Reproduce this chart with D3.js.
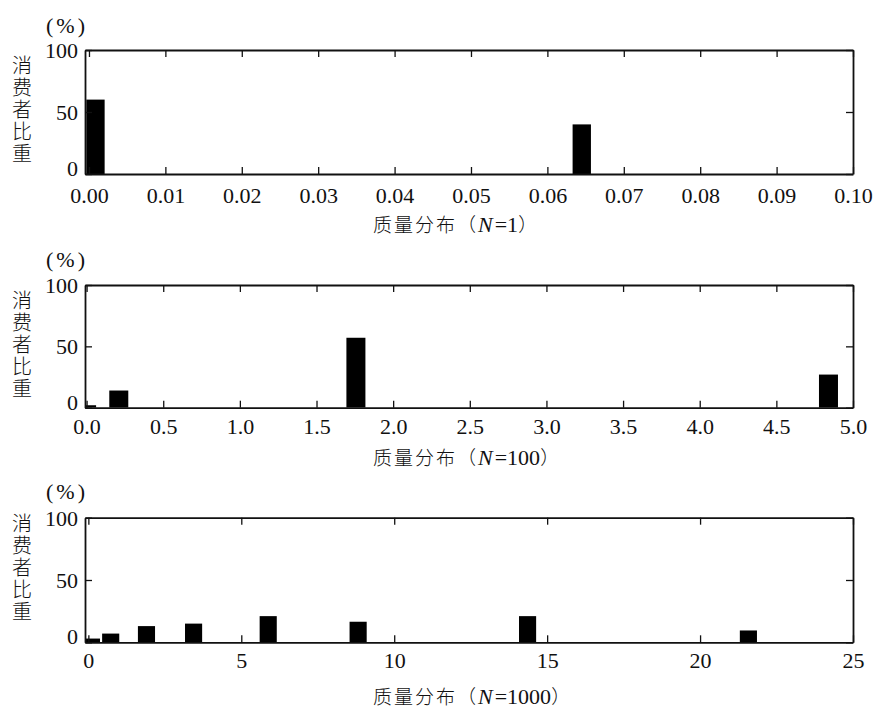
<!DOCTYPE html>
<html>
<head>
<meta charset="utf-8">
<script src="https://cdn.jsdelivr.net/npm/d3@7/dist/d3.min.js"></script>
<style>
  body { margin: 0; background: #fff; }
  svg text { fill: #111; }
  .num { font-family: "Liberation Serif", "DejaVu Serif", serif; font-size: 22px; }
  .cjk { font-family: "Noto Sans CJK SC", sans-serif; font-size: 19px; font-weight: 300; }
  .ylab { font-size: 20px; writing-mode: vertical-rl; letter-spacing: 2px; }
</style>
</head>
<body>
<div id="chart"></div>
<script>

// panel 1 (N=1)
const n1Mass = [0.00085, 0.0645];
const n1Share = [60, 40];
const n1Ticks = [0, 0.01, 0.02, 0.03, 0.04, 0.05, 0.06, 0.07, 0.08, 0.09, 0.10];

// panel 2 (N=100)
const n100Mass = [0.0, 0.21, 1.757, 4.84];
const n100Share = [2, 14, 57, 27];
const n100Ticks = [0, 0.5, 1.0, 1.5, 2.0, 2.5, 3.0, 3.5, 4.0, 4.5, 5.0];

// panel 3 (N=1000)
const n1000Mass = [0.1, 0.73, 1.9, 3.44, 5.88, 8.82, 14.36, 21.58];
const n1000Share = [3, 7, 13, 15, 21, 16.5, 21, 9.5];
const n1000Ticks = [0, 5, 10, 15, 20, 25];

const yTicks = [0, 50, 100];
const yLabel = "消费者比重";

var width = 873;
var height = 709;
var left = 85, right = 853;

var panels = [
  {mass: n1Mass, share: n1Share, ticks: n1Ticks, fmt: d3.format(".2f"), domain: [-0.00052, 0.1],
   barW: 0.0024, top: 50, bottom: 174, labelY: 29, title: "N=1", titleY: 225, pctY: 26, ylabY: 55},
  {mass: n100Mass, share: n100Share, ticks: n100Ticks, fmt: d3.format(".1f"), domain: [-0.0104, 5],
   barW: 0.124, top: 285, bottom: 407.7, labelY: 26, title: "N=100", titleY: 458, pctY: 260, ylabY: 290},
  {mass: n1000Mass, share: n1000Share, ticks: n1000Ticks, fmt: d3.format("d"), domain: [-0.11, 25],
   barW: 0.56, top: 517.7, bottom: 642.3, labelY: 26, title: "N=1000", titleY: 697, pctY: 492, ylabY: 513}
];

var svg = d3.select("#chart")
  .append("svg")
    .attr("width", width)
    .attr("height", height)

panels.forEach(function(p, i) {
    var x = d3.scaleLinear().domain(p.domain).range([left, right]);
    var y = d3.scaleLinear().domain([0, 100]).range([p.bottom, p.top]);

    var g = svg.append("g");

    g.append("clipPath").attr("id", "clip" + i)
      .append("rect")
        .attr("x", left).attr("y", p.top)
        .attr("width", right - left).attr("height", p.bottom - p.top);

    // bars
    g.append("g")
        .attr("clip-path", "url(#clip" + i + ")")
      .selectAll("rect")
      .data(d3.zip(p.mass, p.share))
      .join("rect")
        .attr("x", d => x(d[0] - p.barW / 2))
        .attr("width", d => x(p.barW) - x(0))
        .attr("y", d => y(d[1]))
        .attr("height", d => y(0) - y(d[1]))
        .attr("fill", "#000");

    // axes, ticks pointing inwards
    var bottomAx = g.append("g")
        .attr("transform", `translate(0,${p.bottom})`)
        .call(d3.axisBottom(x).tickValues(p.ticks).tickFormat(p.fmt).tickSizeInner(-7).tickSizeOuter(0));
    bottomAx.selectAll("text").attr("class", "num").attr("y", p.labelY).attr("dy", 0);

    g.append("g")
        .attr("transform", `translate(0,${p.top})`)
        .call(d3.axisTop(x).tickValues(p.ticks).tickFormat("").tickSizeInner(-7).tickSizeOuter(0));

    var leftAx = g.append("g")
        .attr("transform", `translate(${left},0)`)
        .call(d3.axisLeft(y).tickValues(yTicks).tickSizeInner(-7).tickSizeOuter(0).tickPadding(7));
    leftAx.selectAll("text").attr("class", "num").attr("dy", "0.34em");
    // lift the "0" a little so it clears the x labels
    leftAx.selectAll(".tick").filter(d => d === 0).select("text").attr("y", -6);

    g.append("g")
        .attr("transform", `translate(${right},0)`)
        .call(d3.axisRight(y).tickValues(yTicks).tickFormat("").tickSizeInner(-7).tickSizeOuter(0));

    g.selectAll(".domain").attr("stroke", "#111").attr("stroke-width", 1.8);
    g.selectAll(".tick line").attr("stroke", "#111").attr("stroke-width", 1.3);
    g.selectAll("g").attr("font-family", null).attr("font-size", null);

    // unit
    g.append("text")
        .attr("class", "num")
        .attr("x", 46)
        .attr("y", p.pctY)
        .attr("dy", "0.34em")
        .attr("letter-spacing", "3px")
        .text("(%)");

    // vertical y label
    g.append("text")
        .attr("class", "cjk ylab")
        .attr("x", 22)
        .attr("y", p.ylabY)
        .text(yLabel);

    // x title
    var t = g.append("text")
        .attr("class", "cjk")
        .attr("x", 373)
        .attr("y", p.titleY)
        .attr("dy", "0.35em")
        .attr("letter-spacing", "2px");
    t.append("tspan").text("质量分布（");
    t.append("tspan").attr("font-family", "Liberation Serif").attr("font-style", "italic").attr("font-size", "22px").attr("font-weight", 400).text(p.title.split("=")[0]);
    t.append("tspan").attr("font-family", "Liberation Serif").attr("font-size", "22px").attr("font-weight", 400).attr("letter-spacing", "0px").text("=" + p.title.split("=")[1]);
    t.append("tspan").text("）");
});

</script>
</body>
</html>
